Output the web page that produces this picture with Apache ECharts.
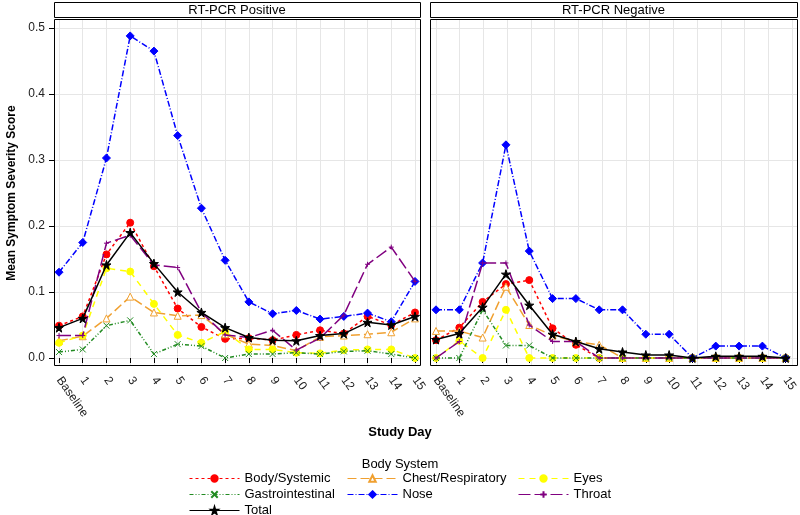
<!DOCTYPE html>
<html>
<head>
<meta charset="utf-8">
<script src="https://cdn.jsdelivr.net/npm/echarts@6/dist/echarts.min.js"></script>
<style>html,body{margin:0;padding:0;background:#fff}#c{width:800px;height:515px}</style>
</head>
<body>
<div id="c"></div>
<script>
var days = ['Baseline','1','2','3','4','5','6','7','8','9','10','11','12','13','14','15'];
var yTicks = [0, 0.1, 0.2, 0.3, 0.4, 0.5];
var panelTitles = ['RT-PCR Positive', 'RT-PCR Negative'];
var seriesNames = ['Body/Systemic','Chest/Respiratory','Eyes','Gastrointestinal','Nose','Throat','Total'];

var posBody   = [0.049,0.063,0.157,0.205,0.139,0.075,0.047,0.029,0.030,0.027,0.035,0.042,0.037,0.063,0.050,0.069];
var posChest  = [0.026,0.033,0.060,0.093,0.069,0.064,0.065,0.036,0.021,0.019,0.011,0.032,0.034,0.036,0.039,0.060];
var posEyes   = [0.023,0.034,0.136,0.131,0.082,0.035,0.023,0.040,0.013,0.013,0.008,0.007,0.012,0.013,0.013,0.000];
var posGastro = [0.009,0.013,0.049,0.057,0.006,0.021,0.018,0.000,0.006,0.006,0.008,0.006,0.010,0.011,0.006,0.000];
var posNose   = [0.130,0.175,0.303,0.488,0.465,0.337,0.227,0.148,0.085,0.067,0.072,0.059,0.063,0.068,0.055,0.116];
var posThroat = [0.034,0.034,0.174,0.186,0.141,0.137,0.069,0.035,0.031,0.042,0.012,0.030,0.065,0.142,0.168,0.116];
var posTotal  = [0.046,0.060,0.141,0.190,0.143,0.100,0.069,0.046,0.031,0.027,0.026,0.034,0.037,0.054,0.050,0.063];

var negBody   = [0.027,0.046,0.085,0.112,0.118,0.045,0.020,0,0,0,0,0,0,0,0,0];
var negChest  = [0.041,0.041,0.031,0.108,0.050,0.034,0.025,0.020,0,0,0,0,0,0,0,0];
var negEyes   = [0,0.026,0,0.073,0,0,0,0,0,0,0,0,0,0,0,0];
var negGastro = [0,0,0.073,0.019,0.019,0,0,0,0,0,0,0,0,0,0,0];
var negNose   = [0.073,0.073,0.144,0.323,0.162,0.090,0.090,0.073,0.073,0.036,0.036,0,0.018,0.018,0.018,0];
var negThroat = [0,0.025,0.144,0.144,0.050,0.025,0.025,0,0,0,0,0,0,0,0,0];
var negTotal  = [0.028,0.037,0.077,0.127,0.080,0.036,0.025,0.014,0.009,0.0045,0.0045,0,0.0025,0.0025,0.0025,0];

var FONT = '"Liberation Sans", Arial, sans-serif';
var styles = {
  'Body/Systemic':     {color:'#FF0000', dash:[3,3], symbol:'circle', size:7, fill:'#FF0000'},
  'Chest/Respiratory': {color:'#F0A030', dash:[9,4], symbol:'triangle', size:7, fill:'#ffffff'},
  'Eyes':              {color:'#FFFF00', dash:[6,5], symbol:'circle', size:7, fill:'#FFFF00'},
  'Gastrointestinal':  {color:'#228B22', dash:[4,2,1,2,1,2], symbol:'path://M0,0L10,10M10,0L0,10', size:6, fill:'#228B22'},
  'Nose':              {color:'#0000FF', dash:[6,2,1,2], symbol:'diamond', size:8, fill:'#0000FF'},
  'Throat':            {color:'#800080', dash:[12,4], symbol:'path://M5,0L5,10M0,5L10,5', size:5, fill:'#800080'},
  'Total':             {color:'#000000', dash:'solid', symbol:'path://M50,0L61,35L98,35L68,57L79,91L50,70L21,91L32,57L2,35L39,35Z', size:9, fill:'#000000'}
};
var panelData = [
  [posBody,posChest,posEyes,posGastro,posNose,posThroat,posTotal],
  [negBody,negChest,negEyes,negGastro,negNose,negThroat,negTotal]
];

// layout
var boxes = [{x:54, w:366}, {x:430, w:367}];
var dataX = [{l:59, w:356}, {l:436, w:356}];
var boxTop = 19, boxBottom = 365, yTop = 28, yBottom = 358;

var grids = [], xAxes = [], yAxes = [], series = [], graphics = [];
for (var p = 0; p < 2; p++) {
  grids.push({left:dataX[p].l, width:dataX[p].w, top:yTop, height:yBottom-yTop});
  xAxes.push({type:'category', data:days, boundaryGap:false, gridIndex:p, offset:boxBottom-yBottom,
    axisLine:{show:false}, axisTick:{show:true, length:5, lineStyle:{color:'#000'}},
    axisLabel:{rotate:-55, fontSize:12, color:'#222', margin:13, fontFamily:FONT, interval:0},
    splitLine:{show:false}});
  yAxes.push({type:'value', min:yTicks[0], max:yTicks[yTicks.length-1], interval:0.1, gridIndex:p,
    offset:dataX[p].l-boxes[p].x,
    axisLine:{show:false}, axisTick:{show:p===0, length:5, lineStyle:{color:'#000'}},
    axisLabel:{show:p===0, fontSize:12, color:'#222', margin:9, fontFamily:FONT, formatter:function(v){return v.toFixed(1);}},
    splitLine:{show:false},
    name: p===0 ? 'Mean Symptom Severity Score' : '', nameLocation:'middle', nameGap:36,
    nameTextStyle:{fontWeight:'bold', fontSize:12, color:'#000', fontFamily:FONT}});
}
for (var p = 0; p < 2; p++) {
  grids.push({left:boxes[p].x, width:boxes[p].w, top:yTop, height:yBottom-yTop});
  xAxes.push({type:'value', gridIndex:2+p, show:false});
  yAxes.push({type:'value', min:0, max:0.5, interval:0.1, gridIndex:2+p,
    axisLine:{show:false}, axisTick:{show:false}, axisLabel:{show:false},
    splitLine:{show:true, lineStyle:{color:'#e6e6e6', width:1}}});
}
for (var p = 0; p < 2; p++) {
  grids.push({left:dataX[p].l, width:dataX[p].w, top:boxTop, height:boxBottom-boxTop});
  xAxes.push({type:'category', data:days, boundaryGap:false, gridIndex:4+p,
    axisLine:{show:false}, axisTick:{show:false}, axisLabel:{show:false},
    splitLine:{show:true, interval:0, lineStyle:{color:'#e6e6e6', width:1}}});
  yAxes.push({type:'value', gridIndex:4+p, show:false});
}

for (var p = 0; p < 2; p++) {
  for (var s = 0; s < seriesNames.length; s++) {
    var nm = seriesNames[s], st = styles[nm];
    series.push({
      type:'line', name:nm, xAxisIndex:p, yAxisIndex:p, data:panelData[p][s],
      symbol:st.symbol, symbolSize:st.size, showAllSymbol:true, clip:false,
      lineStyle:{color:st.color, width:1.5, type:st.dash},
      itemStyle:{color:st.fill, borderColor:st.color, borderWidth:1},
      emphasis:{disabled:true}, animation:false, z:2+s
    });
  }
  graphics.push({type:'rect', shape:{x:boxes[p].x+0.5, y:boxTop+0.5, width:boxes[p].w, height:boxBottom-boxTop},
    style:{fill:'none', stroke:'#000', lineWidth:1}, z:100});
  graphics.push({type:'rect', shape:{x:boxes[p].x+0.5, y:2.5, width:boxes[p].w, height:15},
    style:{fill:'#fff', stroke:'#000', lineWidth:1}, z:100});
  graphics.push({type:'text', x:boxes[p].x + boxes[p].w/2, y:10.5,
    style:{text:panelTitles[p], fontSize:13, fill:'#000', fontFamily:FONT, textAlign:'center', textVerticalAlign:'middle'}, z:101});
}
graphics.push({type:'text', x:400, y:432, style:{text:'Study Day', fontSize:13, fontWeight:'bold', fill:'#000', fontFamily:FONT, textAlign:'center', textVerticalAlign:'middle'}});
graphics.push({type:'text', x:400, y:464, style:{text:'Body System', fontSize:13, fill:'#000', fontFamily:FONT, textAlign:'center', textVerticalAlign:'middle'}});

// legend layout: one legend component per entry, placed in a 3-column grid
var legendRows = [['Body/Systemic','Chest/Respiratory','Eyes'], ['Gastrointestinal','Nose','Throat'], ['Total']];
var legendColX = [189, 347, 518];
var legendRowY = [478, 494, 510];
var legends = [];
for (var r = 0; r < legendRows.length; r++) {
  for (var c = 0; c < legendRows[r].length; c++) {
    legends.push({orient:'horizontal', left:legendColX[c], top:legendRowY[r]-6, padding:0,
      itemWidth:50, itemHeight:8, data:[legendRows[r][c]], selectedMode:false,
      lineStyle:{width:1}, 
      textStyle:{fontSize:13, color:'#000', fontFamily:FONT}});
  }
}

var chart = echarts.init(document.getElementById('c'), null, {renderer:'canvas'});
chart.setOption({
  animation:false,
  textStyle:{fontFamily:FONT},
  grid:grids, xAxis:xAxes, yAxis:yAxes, series:series,
  legend:legends,
  graphic:graphics
});
</script>
</body>
</html>
